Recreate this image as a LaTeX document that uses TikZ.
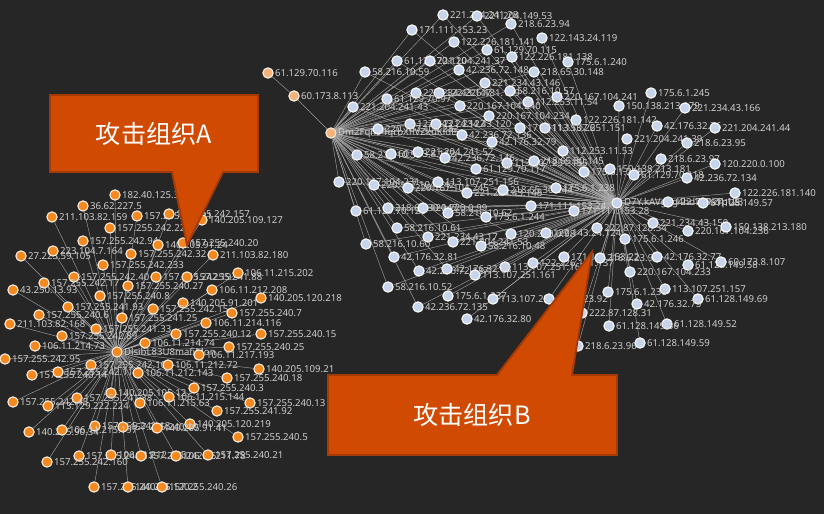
\documentclass[tikz,border=0pt]{standalone}
\usepackage{fontspec}
\setmainfont{Noto Sans}
\newfontfamily\cjkfont{Noto Sans CJK SC}
\usetikzlibrary{backgrounds}
\definecolor{canvas}{HTML}{262626}
\definecolor{wire}{HTML}{ADADAD}
\definecolor{iptext}{HTML}{CDCDCD}
\definecolor{dotOrange}{HTML}{F5891F}
\definecolor{dotPeach}{HTML}{F5B27A}
\definecolor{dotBlue}{HTML}{C6D5EC}
\definecolor{ring}{HTML}{FFF3E6}
\definecolor{tag}{HTML}{D14A02}
\definecolor{tagEdge}{HTML}{A63A04}
\pgfdeclarelayer{wires}
\pgfsetlayers{background,wires,main}
\tikzset{
  dot/.style={circle,draw=ring,line width=0.9pt,minimum size=0.31cm,inner sep=0pt},
  odot/.style={dot,fill=dotOrange},
  pdot/.style={dot,fill=dotPeach},
  bdot/.style={dot,draw=white,fill=dotBlue},
  iplab/.style={text=iptext,font=\fontsize{8.2}{9}\selectfont,inner sep=0.5pt,label distance=0.5pt},
  spoke/.style={draw=wire,line width=0.4pt,opacity=0.85},
  tagshape/.style={fill=tag,draw=tagEdge,line width=1.6pt,line join=miter},
  tagtext/.style={text=white,font=\cjkfont\fontsize{21.5}{24}\selectfont,inner sep=0pt}
}
\begin{document}
\begin{tikzpicture}[x=0.03cm,y=-0.03cm]
\useasboundingbox (0,0) rectangle (824,514);
\begin{pgfonlayer}{background}
\fill[canvas] (0,0) rectangle (824,514);
\end{pgfonlayer}
\node[odot,label={[iplab]right:DlsibL83U8mafiMon}] (hubA) at (117,352) {};
\node[pdot,label={[iplab]right:Dm2Fqh94qrbXflVZkuKldE}] (hubD) at (331,133) {};
\node[bdot,label={[iplab]right:D7Y.kAVg2g4hd7EPkTpUS}] (hubB) at (617,203) {};
\node[pdot,label={[iplab]right:60.173.8.113}] (p1) at (294,96) {};
\node[pdot,label={[iplab]right:61.129.70.116}] (p2) at (268,73) {};
\begin{pgfonlayer}{wires}
\draw[spoke] (hubD) -- (p1); \draw[spoke] (p1) -- (p2);
\end{pgfonlayer}
\foreach \x/\y/\t [count=\i] in {
  115/195/182.40.125.33, 83/206/36.62.227.5, 52/217/211.103.82.159, 137/216/157.255.242.81,
  169/214/157.255.242.157, 202/220/140.205.109.127, 110/228/157.255.242.22, 83/241/157.255.242.94,
  158/245/140.205.91.24, 183/243/157.255.240.20, 21/256/27.223.59.105, 53/251/223.104.7.164,
  131/254/157.255.242.32, 213/255/211.103.82.180, 103/265/157.255.242.233, 74/277/157.255.242.40,
  156/277/157.255.242.19, 187/277/157.255.241.88, 238/273/106.11.215.202, 44/283/157.255.242.17,
  128/286/157.255.240.27, 13/290/43.250.13.93, 212/290/106.11.212.208, 100/296/157.255.240.8,
  261/298/140.205.120.218, 183/303/140.205.91.201, 68/307/157.255.241.93, 153/309/157.255.242.15,
  232/313/157.255.240.7, 39/315/157.255.240.6, 122/318/157.255.241.25, 10/324/211.103.82.168,
  206/323/106.11.214.116, 96/329/157.255.241.33, 62/336/157.255.242.89, 176/334/157.255.240.12,
  261/334/157.255.240.15, 145/343/106.11.214.74, 35/346/106.11.214.73, 229/347/157.255.240.25,
  199/355/106.11.217.193, 5/359/157.255.242.95, 91/365/157.255.242.10, 168/365/106.11.212.72,
  259/369/140.205.109.21, 32/375/157.255.240.14, 58/372/157.255.242.11, 138/373/106.11.212.143,
  227/378/157.255.240.18, 194/388/157.255.240.3, 111/393/140.205.105.12, 77/398/157.255.241.38,
  13/402/157.255.242.45, 169/397/106.11.215.144, 140/403/106.11.215.63, 250/403/157.255.240.13,
  48/406/113.129.222.224, 217/411/157.255.241.92, 190/424/140.205.120.219, 95/426/157.255.242.18,
  123/427/157.255.240.10, 157/428/140.205.91.41, 29/432/140.205.90.34, 62/430/106.11.215.197,
  238/437/157.255.240.5, 79/456/157.255.241.17, 111/455/106.11.212.145, 141/456/157.255.242.46,
  176/456/106.11.211.78, 208/455/157.255.240.21, 47/462/157.255.242.160, 94/487/157.255.240.24,
  128/487/140.205.120.2, 162/487/157.255.240.26} {
  \node[odot,label={[iplab]right:\t}] (o\i) at (\x,\y) {};
  \begin{pgfonlayer}{wires}\draw[spoke] (hubA) -- (o\i);\end{pgfonlayer}
}
\foreach \x/\y/\t/\k [count=\i] in {
  443/15/221.204.241.28/1, 477/16/221.204.149.53/1, 511/24/218.6.23.94/1, 412/30/171.111.153.23/1,
  542/38/122.143.24.119/0, 454/42/122.226.181.141/1, 487/50/61.129.70.115/1, 512/57/122.226.181.138/1,
  568/62/175.6.1.240/0, 397/61/61.129.70.110/1, 430/61/221.204.241.37/1, 365/72/58.216.10.59/1,
  459/70/42.236.72.148/1, 534/72/218.65.30.148/1, 485/83/221.234.43.146/1, 416/93/221.234.43.147/1,
  439/93/122.226.181.139/1, 510/91/58.216.10.57/1, 387/99/61.129.70.97/1, 557/97/220.167.104.241/0,
  528/102/112.253.11.54/1, 353/107/221.204.241.43/1, 460/106/220.167.104.240/1, 619/106/150.138.213.179/0,
  651/93/175.6.1.245/0, 685/108/221.234.43.166/0, 489/116/220.167.104.234/1, 576/120/122.226.181.142/0,
  410/124/122.143.24.122/1, 436/124/221.234.43.120/1, 378/129/220.167.104.232/1, 520/128/171.111.153.26/1,
  545/128/113.107.251.151/0, 462/135/42.236.72.136/1, 657/126/42.176.32.76/0, 715/128/221.204.241.44/0,
  627/139/221.204.241.39/0, 687/143/218.6.23.95/0, 492/142/42.176.32.79/1, 563/151/112.253.11.53/0,
  357/155/58.216.10.58/1, 391/154/60.173.8.112/1, 418/152/221.204.241.52/1, 445/158/42.236.72.146/1,
  507/163/113.107.251.155/1, 534/161/218.65.30.145/0, 661/159/218.6.23.97/0, 715/164/120.220.0.100/0,
  476/169/61.129.70.117/1, 584/172/175.6.1.239/0, 610/169/150.138.213.181/0, 634/175/61.129.70.118/0,
  687/178/42.236.72.134/0, 339/182/220.167.104.231/1, 374/185/220.167.104.242/1, 408/188/220.167.104.245/1,
  438/182/113.107.251.156/1, 467/193/221.234.43.148/1, 503/190/218.65.30.144/1, 556/188/175.6.1.238/0,
  735/193/122.226.181.140/0, 668/202/122.143.24.123/0, 703/203/61.128.149.57/0, 356/211/61.129.70.120/1,
  388/208/218.65.30.147/1, 423/208/120.220.0.99/1, 448/213/58.216.10.62/1, 486/217/175.6.1.244/1,
  531/206/171.111.153.24/0, 574/211/171.111.153.28/0, 397/228/58.216.10.61/1, 653/223/221.234.43.150/0,
  597/228/222.87.128.34/0, 688/231/220.167.104.236/0, 726/227/150.138.213.180/0, 511/234/120.220.0.98/1,
  546/233/122.143.24.124/0, 625/239/175.6.1.246/0, 428/237/221.234.43.17/1, 453/242/221.204.241.53/1,
  481/246/58.216.10.48/1, 366/244/58.216.10.60/1, 394/257/42.176.32.81/1, 533/263/122.226.181.137/0,
  564/257/171.111.153.22/0, 600/258/218.6.23.99/0, 657/257/42.176.32.77/0, 688/265/61.128.149.58/0,
  721/262/60.173.8.107/0, 630/272/220.167.104.233/0, 505/267/113.107.251.163/0, 419/271/42.236.72.137/1,
  447/269/42.176.32.78/1, 475/275/113.107.251.161/0, 665/289/113.107.251.157/0, 388/287/58.216.10.52/1,
  448/296/175.6.1.237/0, 493/299/113.107.251.162/0, 549/299/218.6.23.92/0, 608/292/175.6.1.236/0,
  698/299/61.128.149.69/0, 637/304/42.176.32.75/0, 418/307/42.236.72.135/1, 467/319/42.176.32.80/0,
  582/313/222.87.128.31/0, 667/324/61.128.149.52/0, 609/326/61.128.149.56/0, 640/343/61.128.149.59/0,
  578/346/218.6.23.96/0} {
  \node[bdot,label={[iplab]right:\t}] (b\i) at (\x,\y) {};
  \begin{pgfonlayer}{wires}
    \draw[spoke] (hubB) -- (b\i);
    \ifnum\k=1 \draw[spoke] (hubD) -- (b\i); \fi
  \end{pgfonlayer}
}
\draw[tagshape] (50,95) -- (258,95) -- (258,172) -- (223,172) -- (187,245) -- (172,172) -- (50,172) -- cycle;
\node[tagtext] (tagA) at (154,134) {攻击组织A};
\draw[tagshape] (328,375) -- (497,375) -- (592,252) -- (572,375) -- (617,375) -- (617,455) -- (328,455) -- cycle;
\node[tagtext] (tagB) at (472,415) {攻击组织B};
\end{tikzpicture}
\end{document}
